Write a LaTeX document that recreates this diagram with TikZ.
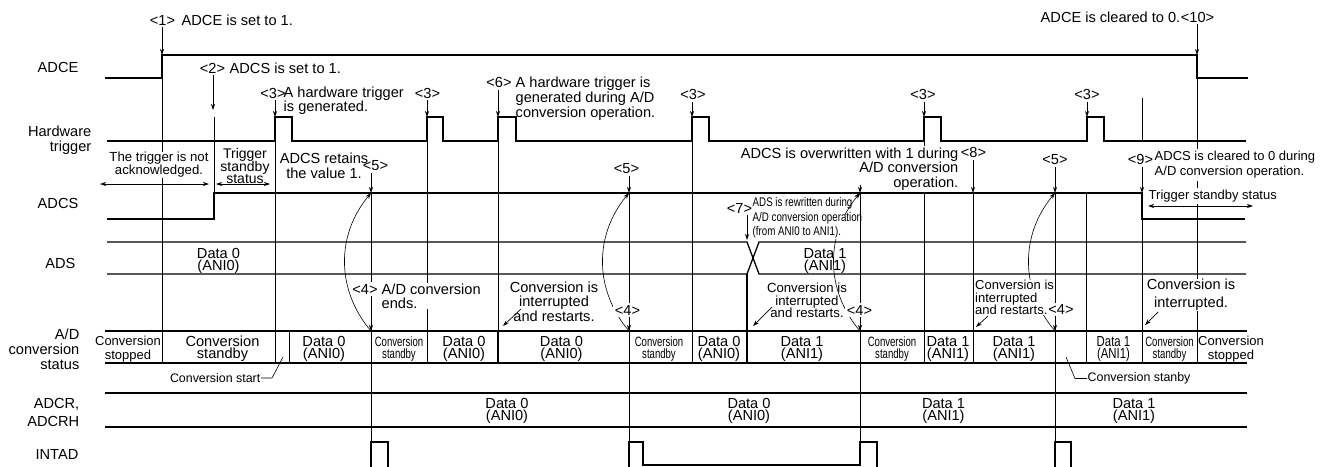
\documentclass[tikz,border=0pt]{standalone}
\usepackage{fontspec}
\setmainfont{Liberation Sans}
\newfontfamily\nsfa[FakeStretch=0.71]{Liberation Sans}
\newfontfamily\nsfb[FakeStretch=0.78]{Liberation Sans}
\usetikzlibrary{arrows.meta}
\lineskiplimit=-30pt
\begin{document}
\begin{tikzpicture}[x=1pt,y=-1pt,
  sig/.style={line width=1.3pt,line join=miter},
  gd/.style={line width=0.7pt},
  sepl/.style={line width=1.2pt},
  tx/.style={inner sep=0.5pt,font=\fontsize{14.6}{15}\selectfont},
  wb/.style={fill=white},
  dat/.style={inner sep=0.5pt,align=center,font=\fontsize{14.6}{12}\selectfont},
  cnd/.style={inner sep=0.5pt,align=center,font=\nsfa\fontsize{13.5}{12}\selectfont},
  arr/.style={-{Stealth[length=6pt,width=4pt]},line width=0.7pt},
  darr/.style={{Stealth[length=6pt,width=4pt]}-{Stealth[length=6pt,width=4pt]},line width=0.7pt},
  lead/.style={line width=0.6pt},
]
\useasboundingbox (0,0) rectangle (1330,466);

% ---------- guide lines ----------
\draw[gd] (162,55) -- (162,363);
\draw[gd] (214,117) -- (214,193);
\draw[gd] (275,117) -- (275,363);
\draw[gd] (289,331) -- (289,363);
\draw[gd] (371,193) -- (371,442);
\draw[gd] (427,117) -- (427,363);
\draw[gd] (498,117) -- (498,331);
\draw[sepl] (498,331) -- (498,363);
\draw[gd] (629,193) -- (629,442);
\draw[gd] (692,117) -- (692,363);
\draw[sepl] (747,274) -- (747,363);
\draw[gd] (860,193) -- (860,442);
\draw[gd] (924,117) -- (924,363);
\draw[gd] (973,193) -- (973,363);
\draw[gd] (1055,193) -- (1055,442);
\draw[gd] (1086,193) -- (1086,363);
\draw[gd] (1142,98) -- (1142,141);
\draw[gd] (1142,219) -- (1142,363);
\draw[gd] (1197,55) -- (1197,363);

% ---------- signals ----------
\draw[sig] (105,78) -- (162,78) -- (162,55) -- (1197,55) -- (1197,78) -- (1248,78);
\draw[sig] (107,141) -| (275,117) -| (292,141) -| (427,117) -| (443,141) -| (498,117) -| (516,141)
  -| (692,117) -| (709,141) -| (924,117) -| (941,141) -| (1087,117) -| (1104,141) -- (1246,141);
\draw[sig] (107,219) -- (214,219) -- (214,193) -- (1142,193) -- (1142,219) -- (1245,219);
\draw[sig] (107,242) -- (747,242) -- (759,274) -- (1246,274);
\draw[sig] (107,274) -- (747,274) -- (759,242) -- (1246,242);
\draw[sig] (105,331) -- (1247,331);
\draw[sig] (105,363) -- (1247,363);
\draw[sig] (105,393) -- (1247,393);
\draw[sig] (105,427) -- (1247,427);
\draw[sig] (371,467) -- (371,442) -- (388,442) -- (388,467);
\draw[sig] (629,467) -- (629,442) -- (643,442) -- (643,465) -- (860,465) -- (860,442) -- (877,442) -- (877,467);
\draw[sig] (1055,467) -- (1055,442) -- (1071,442) -- (1071,467);

% ---------- curved arrows <4> -> <5> ----------
\foreach \x in {371,629,860,1055}
  \draw[arr,line width=0.6pt] (\x,331) .. controls (\x-35,290) and (\x-35,235) .. (\x,193);

% ---------- left labels ----------
\node[tx,anchor=base east] (lab1) at (79,72) {ADCE};
\node[tx,anchor=east,align=right] (lab2) at (92,140) {Hardware\\trigger};
\node[tx,anchor=base east] (lab3) at (79,208) {ADCS};
\node[tx,anchor=base east] (lab4) at (76,268) {ADS};
\node[tx,anchor=east,align=right] (lab5) at (80,349) {A/D\\conversion\\status};
\node[tx,anchor=east,align=right,font=\fontsize{14.6}{18}\selectfont] (lab6) at (80,412) {ADCR,\\ADCRH};
\node[tx,anchor=base east] (lab7) at (79,459) {INTAD};

% ---------- top annotations ----------
\node[tx] (k1) at (162.5,20) {<1>};
\node[tx,anchor=west] (k1t) at (181,20) {ADCE is set to 1.};
\node[tx] (k2) at (212.5,68) {<2>};
\node[tx,anchor=west] (k2t) at (229,68) {ADCS is set to 1.};
\node[tx] (k3a) at (273,93) {<3>};
\node[tx,anchor=west,align=left,font=\fontsize{14.6}{14}\selectfont] (k3t) at (283,101) {A hardware trigger\\is generated.};
\node[tx] (k3b) at (427.5,93) {<3>};
\node[tx] (k6) at (499,82.5) {<6>};
\node[tx,anchor=west,align=left] (k6t) at (515,98.5) {A hardware trigger is\\generated during A/D\\conversion operation.};
\node[tx] (k3c) at (693,94.5) {<3>};
\node[tx] (k3d) at (923,94.5) {<3>};
\node[tx] (k3e) at (1087,94.5) {<3>};
\node[tx] (k10) at (1197.5,17) {<10>};
\node[tx,anchor=east] (k10t) at (1181,17) {ADCE is cleared to 0.};

% ---------- ADCS area annotations ----------
\node[tx,wb,align=center,font=\fontsize{13.2}{13}\selectfont] (na) at (159,165) {The trigger is not\\acknowledged.};
\node[tx,align=center,font=\fontsize{14}{12.5}\selectfont] (ts) at (245,166) {Trigger\\standby\\status};
\node[tx,align=center,font=\fontsize{14.6}{14.5}\selectfont] (rt) at (324,166) {ADCS retains\\the value 1.};
\node[tx] (k5a) at (375.5,165.5) {<5>};
\node[tx] (k5b) at (626.5,169) {<5>};
\node[tx] (k5c) at (855.5,177.5) {<5>};
\node[tx] (k5d) at (1055,159.5) {<5>};
\node[tx,wb,inner ysep=1.5pt,anchor=east,align=right,font=\fontsize{14.6}{14.5}\selectfont] (ow) at (959,169) {ADCS is overwritten with 1 during\\A/D conversion\\operation.};
\node[tx] (k8) at (973.5,152.5) {<8>};
\node[tx] (k7) at (739.5,208) {<7>};
\node[tx,wb,anchor=west,align=left,font=\nsfb\fontsize{12.5}{14.5}\selectfont] (rw) at (752,218) {ADS is rewritten during\\A/D conversion operation\\(from ANI0 to ANI1).};
\node[tx] (k9) at (1140.5,159.5) {<9>};
\node[tx,wb,inner ysep=2pt,anchor=west,align=left,font=\fontsize{13}{15}\selectfont] (cl) at (1154,165) {ADCS is cleared to 0 during\\A/D conversion operation.};
\node[tx,wb,inner ysep=2pt,anchor=west,font=\fontsize{13}{13}\selectfont] (ts2) at (1148,196) {Trigger standby status};

% ---------- ADS data ----------
\node[dat] (ads0) at (218.5,260.5) {Data 0\\(ANI0)};
\node[dat] (ads1) at (825,260.5) {Data 1\\(ANI1)};

% ---------- conversion annotations ----------
\node[tx,wb,inner sep=1.5pt] (k4a) at (365,289) {<4>};
\node[tx,wb,anchor=west,align=left,font=\fontsize{14.6}{14}\selectfont] (ce) at (381,296) {A/D conversion\\ends.};
\node[tx,align=center,font=\fontsize{14.6}{14.5}\selectfont] (ir1) at (554,301.5) {Conversion is\\interrupted\\and restarts.};
\node[tx,wb,inner sep=1.5pt] (k4b) at (627.5,310) {<4>};
\node[tx,align=center,font=\fontsize{13.2}{12.5}\selectfont] (ir2) at (807,300.5) {Conversion is\\interrupted\\and restarts.};
\node[tx,wb,inner sep=1.5pt] (k4c) at (859.5,310) {<4>};
\node[tx,wb,anchor=west,align=left,font=\fontsize{13}{12.5}\selectfont] (ir3) at (974.5,297.5) {Conversion is\\interrupted\\and restarts.};
\node[tx,wb,inner sep=1pt] (k4d) at (1061,309.5) {<4>};
\node[tx,wb,align=center,font=\fontsize{14.6}{18}\selectfont] (ir4) at (1191,295) {Conversion is\\interrupted.};

% ---------- A/D conversion status cells ----------
\node[dat,font=\fontsize{13}{14}\selectfont] (s1) at (128,349.5) {Conversion\\stopped};
\node[dat] (s2) at (222.5,349) {Conversion\\standby};
\node[dat] (s3) at (324,349) {Data 0\\(ANI0)};
\node[cnd] (s4) at (399,349) {Conversion\\standby};
\node[dat] (s5) at (464,349) {Data 0\\(ANI0)};
\node[dat] (s6) at (561.5,349) {Data 0\\(ANI0)};
\node[cnd] (s7) at (659,349) {Conversion\\standby};
\node[dat] (s8) at (719,349) {Data 0\\(ANI0)};
\node[dat] (s9) at (802,349) {Data 1\\(ANI1)};
\node[cnd] (s10) at (892,349) {Conversion\\standby};
\node[dat] (s11) at (948,349) {Data 1\\(ANI1)};
\node[dat] (s12) at (1014,349) {Data 1\\(ANI1)};
\node[dat,font=\nsfb\fontsize{14.6}{12}\selectfont] (s13) at (1113.5,349) {Data 1\\(ANI1)};
\node[cnd] (s14) at (1169.5,349) {Conversion\\standby};
\node[dat,font=\fontsize{13}{14}\selectfont] (s15) at (1231,349.5) {Conversion\\stopped};

% ---------- callouts below status ----------
\node[tx,anchor=east,font=\fontsize{12.4}{13}\selectfont] (cs) at (261,378) {Conversion start};
\coordinate (csp) at (283,357);
\draw[lead] (cs.east) -- ++(11,0) -- (csp);
\node[tx,anchor=west,font=\fontsize{12.4}{13}\selectfont] (csb) at (1087,378.5) {Conversion stanby};
\coordinate (csbp) at (1066,357);
\draw[lead] (csb.west) -- ++(-12,0) -- (csbp);

% ---------- ADCR data ----------
\node[dat] (r1) at (507,410.5) {Data 0\\(ANI0)};
\node[dat] (r2) at (749,410.5) {Data 0\\(ANI0)};
\node[dat] (r3) at (943.5,410.5) {Data 1\\(ANI1)};
\node[dat] (r4) at (1134,410.5) {Data 1\\(ANI1)};

% ---------- redraw parts over text as in reference ----------
\draw[gd] (860,193) -- (860,242);
\begin{scope}
  \clip (836,183) rectangle (872,214);
  \draw[arr,line width=0.6pt] (860,331) .. controls (825,290) and (825,235) .. (860,193);
\end{scope}

% ---------- arrow targets ----------
\coordinate (a1) at (162,55);
\coordinate (a2) at (213,110);
\coordinate (a3a) at (275,117);
\coordinate (a3b) at (427,117);
\coordinate (a6) at (498,117);
\coordinate (a3c) at (692,117);
\coordinate (a3d) at (924,117);
\coordinate (a3e) at (1087,117);
\coordinate (a10) at (1197,55);
\coordinate (a5a) at (371,193);
\coordinate (a5b) at (629,193);
\coordinate (a5c) at (860,193);
\coordinate (a5d) at (1055,193);
\coordinate (a8) at (973,193);
\coordinate (a9) at (1142,193);
\coordinate (a7) at (747,240);
\coordinate (a4a) at (371,331);
\coordinate (a4b) at (629,331);
\coordinate (a4c) at (860,331);
\coordinate (a4d) at (1055,331);

\foreach \k/\a in {k1/a1,k2/a2,k3a/a3a,k3b/a3b,k6/a6,k3c/a3c,k3d/a3d,k3e/a3e,k10/a10,
                   k5a/a5a,k5b/a5b,k5c/a5c,k5d/a5d,k8/a8,k9/a9,k7/a7}
  \draw[arr,shorten <=1.5pt] (\k.south -| \a) -- (\a);
\foreach \k/\a in {k4a/a4a,k4b/a4b,k4c/a4c,k4d/a4d}
  \draw[arr] (\k.south -| \a) -- (\a);

% ---------- small diagonal arrows ----------
\coordinate (d1s) at (521,309); \coordinate (d1e) at (503,326);
\coordinate (d2s) at (772,307); \coordinate (d2e) at (753,326);
\coordinate (d3s) at (988,316); \coordinate (d3e) at (976,327);
\coordinate (d4s) at (1158,312); \coordinate (d4e) at (1145,325);
\draw[arr] (d1s) -- (d1e);
\draw[arr] (d2s) -- (d2e);
\draw[arr] (d3s) -- (d3e);
\draw[arr] (d4s) -- (d4e);

% ---------- double arrows ----------
\coordinate (b1l) at (100,184); \coordinate (b1r) at (209,184);
\coordinate (b2l) at (216,184); \coordinate (b2r) at (270,184);
\coordinate (b3l) at (1148,206); \coordinate (b3r) at (1253,206);
\draw[darr] (b1l) -- (b1r);
\draw[darr] (b2l) -- (b2r);
\draw[darr] (b3l) -- (b3r);
\end{tikzpicture}
\end{document}
